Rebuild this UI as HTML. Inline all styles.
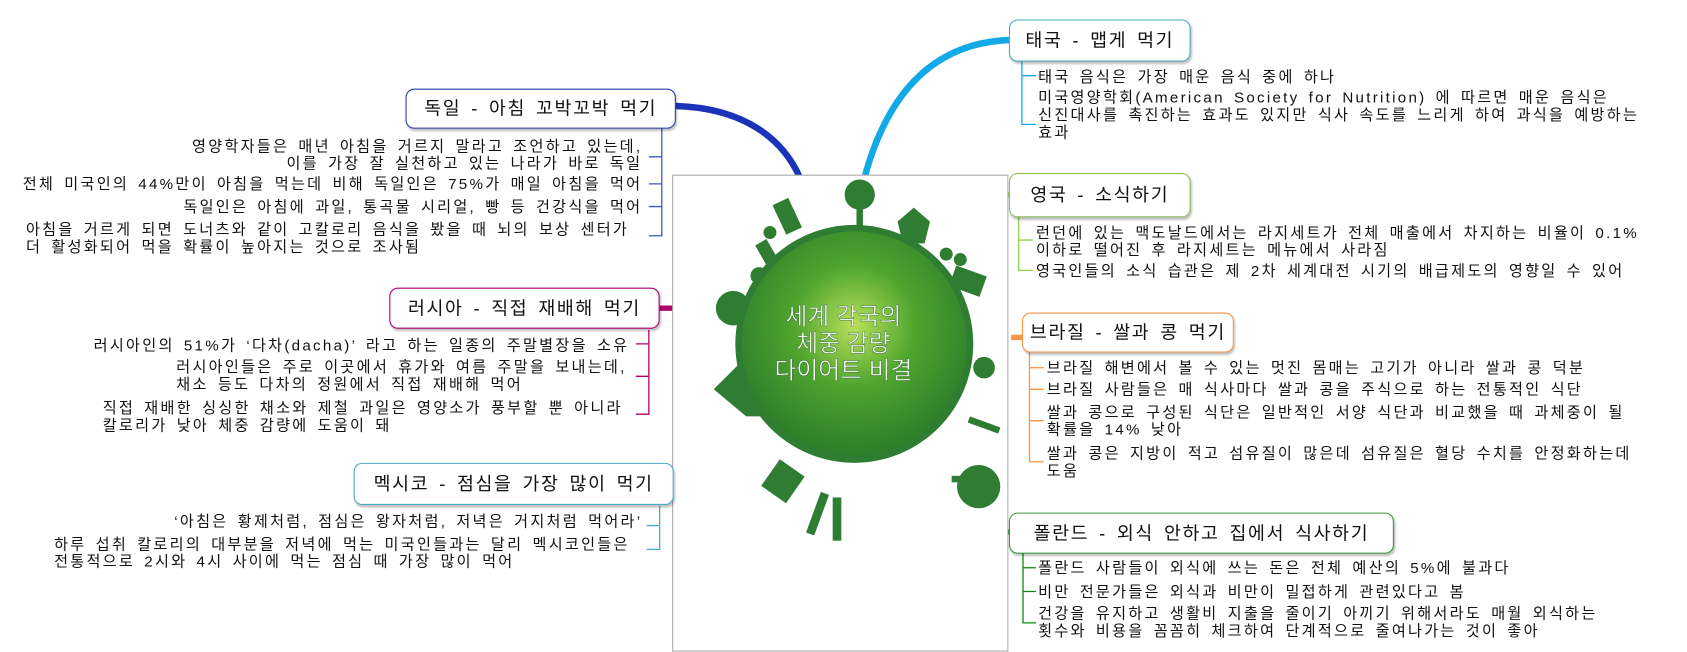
<!DOCTYPE html>
<html><head><meta charset="utf-8">
<style>
html,body{margin:0;padding:0;background:#fff;overflow:hidden;}
#wrap{position:absolute;left:0;top:0;width:1560px;height:603px;transform:scale(1.0814);transform-origin:0 0;font-family:"Liberation Sans","Noto Sans CJK KR",sans-serif;color:#111;}
.node{position:absolute;box-sizing:border-box;border:1.5px solid;border-radius:8px;background:#fff;font-size:17px;line-height:1;display:flex;align-items:center;justify-content:center;box-shadow:1px 2px 2px rgba(0,0,0,.25);white-space:nowrap;letter-spacing:1.5px;word-spacing:3px;}
.t{position:absolute;font-size:14px;line-height:16px;white-space:nowrap;letter-spacing:2.1px;word-spacing:2.5px;}
.r{text-align:right;}
svg{position:absolute;left:0;top:0;}
</style></head><body><div id="wrap">
<svg width="1560" height="603" viewBox="0 0 1560 603">
 <defs>
  <radialGradient id="g" cx="0.5" cy="0.42" r="0.6">
   <stop offset="0" stop-color="#b8e05a"/><stop offset="0.45" stop-color="#4fa52e"/><stop offset="1" stop-color="#2a7a2a"/>
  </radialGradient>
 </defs>
 <path d="M625 98 C690 100 725 130 740 165" fill="none" stroke="#1a33b8" stroke-width="6"/>
 <path d="M800 162 C820 90 860 40 933 37" fill="none" stroke="#12a9e8" stroke-width="6"/>
 <path d="M610 285 L628 285" stroke="#b0006e" stroke-width="5"/>
 <path d="M925 180 L940 180" stroke="#92d050" stroke-width="5"/>
 <path d="M935 312 L948 312" stroke="#f79646" stroke-width="5"/>
 <path d="M855 475 C880 488 905 492 935 492" fill="none" stroke="#0a8a0a" stroke-width="5"/>
 <rect x="622" y="162" width="310" height="440" fill="#fff" stroke="#aaa" stroke-width="1"/>
 <g fill="#2e7d32">
  <circle cx="795" cy="180" r="14"/><rect x="792" y="190" width="6" height="22"/>
  <circle cx="678" cy="285" r="16"/><rect x="690" y="282" width="20" height="6"/>
  <circle cx="905" cy="450" r="20"/><rect x="880" y="440" width="14" height="6"/>
  <circle cx="910" cy="340" r="10"/>
  <polygon points="660,360 690,330 705,340 705,385 690,385"/>
  <rect x="720" y="185" width="16" height="30" transform="rotate(-25 728 200)"/>
  <rect x="880" y="250" width="30" height="20" transform="rotate(20 895 260)"/>
  <rect x="710" y="430" width="28" height="30" transform="rotate(35 724 445)"/>
  <polygon points="830,205 845,192 860,205 855,225 835,225"/>
  <circle cx="712" cy="215" r="6"/><rect x="705" y="222" width="12" height="30" transform="rotate(-30 711 237)"/>
  <circle cx="702" cy="255" r="8"/>
  <rect x="770" y="460" width="8" height="40"/><rect x="752" y="455" width="8" height="40" transform="rotate(20 756 475)"/>
  <rect x="895" y="390" width="30" height="6" transform="rotate(20 910 393)"/>
  <circle cx="875" cy="235" r="6"/><circle cx="888" cy="240" r="6"/>
 </g>
 <circle cx="790" cy="318" r="110" fill="#2e7d32"/>
 <circle cx="790" cy="318" r="104" fill="url(#g)"/>
 <text x="780" y="300" fill="#fff" font-size="22" text-anchor="middle" font-family="Liberation Sans,Noto Sans CJK KR,sans-serif" stroke="#2a6a2a" stroke-width="0.4">세계 각국의</text>
 <text x="780" y="325" fill="#fff" font-size="22" text-anchor="middle" font-family="Liberation Sans,Noto Sans CJK KR,sans-serif" stroke="#2a6a2a" stroke-width="0.4">체중 감량</text>
 <text x="780" y="350" fill="#fff" font-size="22" text-anchor="middle" font-family="Liberation Sans,Noto Sans CJK KR,sans-serif" stroke="#2a6a2a" stroke-width="0.4">다이어트 비결</text>
 <g fill="none" stroke-width="1.2">
  <path d="M612 118 V218 H600 M600 145 H612 M600 170 H612 M600 191 H612" stroke="#4455cc"/>
  <path d="M600 305 V383 H588 M588 318 H600 M588 348 H600" stroke="#b0006e"/>
  <path d="M610 468 V508 H598 M598 486 H610" stroke="#4bacc6"/>
  <path d="M945 57 V115 H958 M945 70 H958" stroke="#12a9e8"/>
  <path d="M942 200 V250 H955 M942 222 H955" stroke="#92d050"/>
  <path d="M952 325 V427 H965 M952 340 H965 M952 360 H965 M952 389 H965" stroke="#f79646"/>
  <path d="M946 510 V576 H958 M946 525 H958 M946 547 H958" stroke="#0a8a0a"/>
 </g>
</svg>

<div class="node" style="left:375px;top:82px;width:250px;height:37px;border-color:#2a3aa8;">독일 - 아침 꼬박꼬박 먹기</div>
<div class="t r" style="right:966px;top:127px;">영양학자들은 매년 아침을 거르지 말라고 조언하고 있는데,<br>이를 가장 잘 실천하고 있는 나라가 바로 독일</div>
<div class="t r" style="right:966px;top:162px;">전체 미국인의 44%만이 아침을 먹는데 비해 독일인은 75%가 매일 아침을 먹어</div>
<div class="t r" style="right:966px;top:183px;">독일인은 아침에 과일, 통곡물 시리얼, 빵 등 건강식을 먹어</div>
<div class="t" style="left:24px;top:204px;">아침을 거르게 되면 도너츠와 같이 고칼로리 음식을 봤을 때 뇌의 보상 센터가<br>더 활성화되어 먹을 확률이 높아지는 것으로 조사됨</div>

<div class="node" style="left:360px;top:266px;width:250px;height:38px;border-color:#b0006e;">러시아 - 직접 재배해 먹기</div>
<div class="t r" style="right:978px;top:311px;">러시아인의 51%가 ‘다차(dacha)’ 라고 하는 일종의 주말별장을 소유</div>
<div class="t" style="left:163px;top:331px;">러시아인들은 주로 이곳에서 휴가와 여름 주말을 보내는데,<br>채소 등도 다차의 정원에서 직접 재배해 먹어</div>
<div class="t" style="left:95px;top:369px;">직접 재배한 싱싱한 채소와 제철 과일은 영양소가 풍부할 뿐 아니라<br>칼로리가 낮아 체중 감량에 도움이 돼</div>

<div class="node" style="left:327px;top:428px;width:296px;height:39px;border-color:#4bacc6;">멕시코 - 점심을 가장 많이 먹기</div>
<div class="t r" style="right:966px;top:474px;">‘아침은 황제처럼, 점심은 왕자처럼, 저녁은 거지처럼 먹어라’</div>
<div class="t" style="left:50px;top:495px;">하루 섭취 칼로리의 대부분을 저녁에 먹는 미국인들과는 달리 멕시코인들은<br>전통적으로 2시와 4시 사이에 먹는 점심 때 가장 많이 먹어</div>

<div class="node" style="left:933px;top:18px;width:168px;height:39px;border-color:#4bacc6;">태국 - 맵게 먹기</div>
<div class="t" style="left:960px;top:63px;">태국 음식은 가장 매운 음식 중에 하나</div>
<div class="t" style="left:960px;top:82px;">미국영양학회(American Society for Nutrition) 에 따르면 매운 음식은<br>신진대사를 촉진하는 효과도 있지만 식사 속도를 느리게 하여 과식을 예방하는<br>효과</div>

<div class="node" style="left:933px;top:160px;width:168px;height:41px;border-color:#92c060;">영국 - 소식하기</div>
<div class="t" style="left:958px;top:207px;">런던에 있는 맥도날드에서는 라지세트가 전체 매출에서 차지하는 비율이 0.1%<br>이하로 떨어진 후 라지세트는 메뉴에서 사라짐</div>
<div class="t" style="left:958px;top:242px;">영국인들의 소식 습관은 제 2차 세계대전 시기의 배급제도의 영향일 수 있어</div>

<div class="node" style="left:945px;top:289px;width:196px;height:37px;border-color:#f79646;">브라질 - 쌀과 콩 먹기</div>
<div class="t" style="left:968px;top:332px;">브라질 해변에서 볼 수 있는 멋진 몸매는 고기가 아니라 쌀과 콩 덕분</div>
<div class="t" style="left:968px;top:352px;">브라질 사람들은 매 식사마다 쌀과 콩을 주식으로 하는 전통적인 식단</div>
<div class="t" style="left:968px;top:373px;">쌀과 콩으로 구성된 식단은 일반적인 서양 식단과 비교했을 때 과체중이 될<br>확률을 14% 낮아</div>
<div class="t" style="left:968px;top:411px;">쌀과 콩은 지방이 적고 섬유질이 많은데 섬유질은 혈당 수치를 안정화하는데<br>도움</div>

<div class="node" style="left:933px;top:474px;width:356px;height:38px;border-color:#3a9a3a;">폴란드 - 외식 안하고 집에서 식사하기</div>
<div class="t" style="left:960px;top:517px;">폴란드 사람들이 외식에 쓰는 돈은 전체 예산의 5%에 불과다</div>
<div class="t" style="left:960px;top:539px;">비만 전문가들은 외식과 비만이 밀접하게 관련있다고 봄</div>
<div class="t" style="left:960px;top:559px;">건강을 유지하고 생활비 지출을 줄이기 아끼기 위해서라도 매월 외식하는<br>횟수와 비용을 꼼꼼히 체크하여 단계적으로 줄여나가는 것이 좋아</div>
</div></body></html>
